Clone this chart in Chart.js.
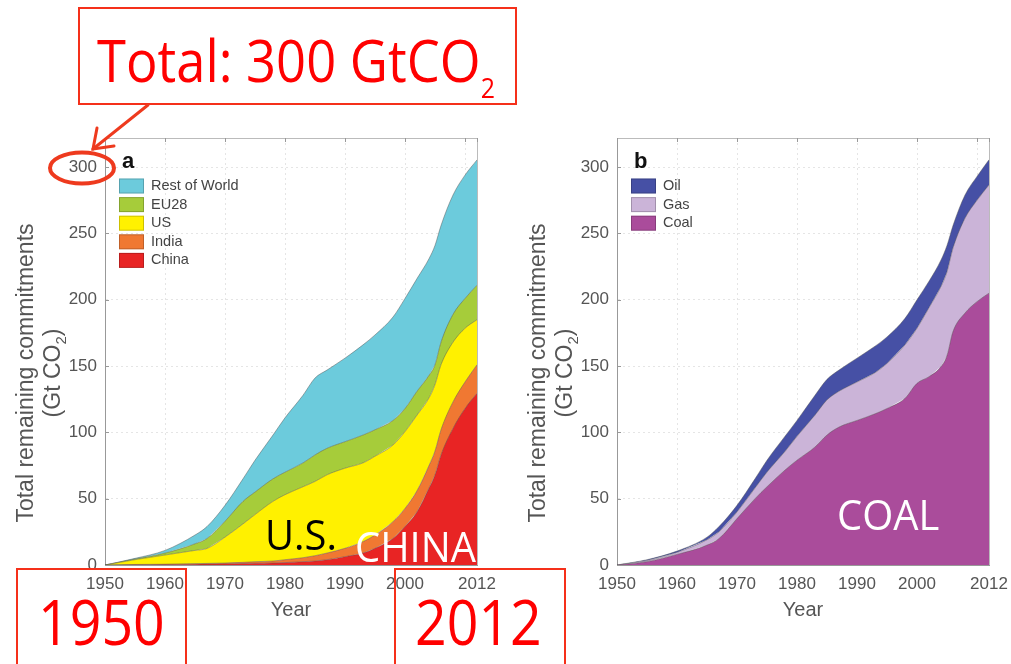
<!DOCTYPE html>
<html>
<head>
<meta charset="utf-8">
<script src="https://cdn.jsdelivr.net/npm/chart.js@4.4.1/dist/chart.umd.min.js"></script>
<style>
  body { margin: 0; width: 1011px; height: 664px; overflow: hidden; background: #fff; position: relative; }
  .plot { position: absolute; top: 0; width: 500px; height: 664px; }
  .plot canvas { filter: blur(0.5px); }
  #wrapA { left: 0; }
  #wrapB { left: 512px; }
  .ytitle {
    position: absolute; top: 373px; width: 360px;
    transform: translate(-50%, -50%) rotate(-90deg);
    text-align: center; white-space: nowrap;
    font: 23px/27px "Liberation Sans", Arial, sans-serif; color: #555;
    filter: blur(0.5px);
  }
  .ytitle sub { font-size: 0.65em; line-height: 0; }
  .box { position: absolute; box-sizing: border-box; border: 2px solid #f5301a; }
  .note {
    position: absolute; font-family: "Open Sans", sans-serif; line-height: 1;
    white-space: nowrap; transform-origin: 0 0;
  }
  #overlay { position: absolute; left: 0; top: 0; }
</style>
</head>
<body>

<div class="plot" id="wrapA"><canvas id="chartA" width="500" height="664"></canvas></div>
<div class="plot" id="wrapB"><canvas id="chartB" width="500" height="664"></canvas></div>

<div class="ytitle" style="left:38.5px">Total remaining commitments<br>(Gt CO<sub>2</sub>)</div>
<div class="ytitle" style="left:550.5px">Total remaining commitments<br>(Gt CO<sub>2</sub>)</div>

<!-- callouts -->
<div class="box" style="left:78px;top:7px;width:439px;height:98px"></div>
<div class="box" style="left:16px;top:568px;width:171px;height:120px"></div>
<div class="box" style="left:394px;top:568px;width:172px;height:120px"></div>

<div class="note" style="left:97px;top:30px;font-size:59px;color:#f00;transform:scaleX(0.89)">Total: 300 GtCO<span style="font-size:28px;position:relative;top:16px">2</span></div>
<div class="note" style="left:38px;top:589px;font-size:63px;color:#f00;transform:scaleX(0.88)">1950</div>
<div class="note" style="left:415px;top:589px;font-size:63px;color:#f00;transform:scaleX(0.88)">2012</div>
<div class="note" style="left:265px;top:513px;font-size:42px;color:#000;transform:scaleX(0.95)">U.S.</div>
<div class="note" style="left:355px;top:525px;font-size:42px;color:#fff;transform:scaleX(0.95)">CHINA</div>
<div class="note" style="left:837px;top:493px;font-size:42px;color:#fff;transform:scaleX(0.95)">COAL</div>

<svg id="overlay" width="1011" height="664">
  <g fill="none" stroke="#ee3a1e" stroke-linecap="round">
    <ellipse cx="82" cy="168" rx="32" ry="15.5" stroke-width="4"/>
    <line x1="148" y1="105" x2="93" y2="149" stroke-width="3"/>
    <polyline points="97,128 93,149 114,146" stroke-width="3"/>
  </g>
</svg>

<script>
const years = [1950, 1955, 1960, 1965, 1967, 1970, 1973, 1975, 1978, 1980, 1983, 1985, 1987,
               1990, 1993, 1995, 1998, 2000, 2002, 2004, 2005, 2006, 2008, 2010, 2012];

// panel a: remaining commitments by region, Gt CO2
const china       = [0, 0.2, 0.4, 0.6, 0.7, 0.9, 1.1, 1.3, 1.5, 1.8, 2.5, 3, 4, 6.3, 9, 12.6, 20, 29, 40, 58, 68, 83, 103, 118, 129.5];
const india       = [0, 0.2, 0.2, 0.4, 0.5, 0.6, 0.9, 1.2, 1.5, 2.2, 3, 4, 5, 6.3, 8.6, 10, 12.7, 13.7, 16, 17, 18, 19, 20, 20, 21.5];
const us          = [0, 3.6, 6.9, 10, 11.3, 19.5, 29, 35.5, 45, 49, 53.5, 56, 59, 60.4, 59.4, 59.4, 57.8, 57.9, 57, 51, 50, 49, 45, 40.5, 34];
const eu28        = [0, 0.5, 1.5, 5, 7.5, 12, 17, 17, 17, 17, 18, 20, 20, 20, 21, 20, 18.5, 17.4, 18, 17, 15, 17, 21, 22.5, 26];
const restOfWorld = [0, 0.5, 2, 6.6, 9, 12, 17, 24, 33, 41, 51, 58, 59, 63, 68, 71.5, 78, 83, 85, 88, 90, 88, 90, 93, 94.5];

// panel b: remaining commitments by fuel, Gt CO2
const coal = [0, 2.5, 8, 15, 20, 35, 50, 59, 71.6, 79, 89, 98, 104, 109, 114, 118, 125.7, 137, 142, 149.6, 158, 176, 190, 198.6, 205];
const gas  = [0, 0.8, 1.5, 4, 5, 5, 8, 11, 14, 18, 24, 26.5, 27, 29, 31, 34, 40.3, 41.5, 52, 60.4, 63, 63, 71.5, 76.4, 81.6];
const oil  = [0, 0.7, 1, 2, 4, 5, 7, 9, 11.5, 12, 15, 15.5, 16, 18, 20, 20, 20, 21.5, 20, 20, 20, 17, 17.5, 18, 19];

const yTicks = [0, 50, 100, 150, 200, 250, 300];
const xTicks = [1950, 1960, 1970, 1980, 1990, 2000, 2010, 2012];
const xTickLabels = ['1950', '1960', '1970', '1980', '1990', '2000', '', '2012'];

Chart.defaults.font.family = '"Liberation Sans", Arial, sans-serif';

// legend, panel letter and the box frame drawn inside the plot area
const insetLegend = {
  id: 'insetLegend',
  afterDraw(chart, args, opts) {
    const ctx = chart.ctx;
    const a = chart.chartArea;
    ctx.save();

    ctx.strokeStyle = '#bbb';
    ctx.lineWidth = 1;
    ctx.beginPath();
    ctx.moveTo(a.left, a.top + 0.5);
    ctx.lineTo(a.right + 0.5, a.top + 0.5);
    ctx.lineTo(a.right + 0.5, a.bottom);
    ctx.stroke();

    ctx.strokeStyle = '#999';
    ctx.beginPath();
    chart.scales.x.ticks.forEach(t => {
      const px = Math.round(chart.scales.x.getPixelForValue(t.value)) + 0.5;
      ctx.moveTo(px, a.top); ctx.lineTo(px, a.top + 4);
    });
    chart.scales.y.ticks.forEach(t => {
      const py = Math.round(chart.scales.y.getPixelForValue(t.value)) + 0.5;
      ctx.moveTo(a.left, py); ctx.lineTo(a.left + 4, py);
    });
    ctx.stroke();

    ctx.fillStyle = '#111';
    ctx.font = 'bold 22px "Liberation Sans", Arial, sans-serif';
    ctx.textBaseline = 'alphabetic';
    ctx.fillText(opts.letter, a.left + 17, a.top + 30);

    ctx.font = '14.5px "Liberation Sans", Arial, sans-serif';
    ctx.textBaseline = 'middle';
    chart.data.datasets.slice().reverse().forEach((ds, i) => {
      const y = a.top + 48 + i * 18.6;
      ctx.fillStyle = ds.backgroundColor;
      ctx.fillRect(a.left + 14, y - 7.5, 25, 15);
      ctx.strokeStyle = 'rgba(0,0,0,0.2)';
      ctx.strokeRect(a.left + 14.5, y - 7, 24, 14);
      ctx.fillStyle = '#444';
      ctx.fillText(ds.label, a.left + 46, y);
    });
    ctx.restore();
  }
};

function makeChart(canvasId, series, letter) {
  const ctx = document.getElementById(canvasId).getContext('2d');
  return new Chart(ctx, {
    type: 'line',
    data: {
      datasets: series.map(s => ({
        label: s.label,
        data: years.map((x, i) => ({ x: x, y: s.values[i] })),
        backgroundColor: s.color,
        borderColor: 'rgba(80,80,80,0.45)',
        borderWidth: 1,
        pointRadius: 0,
        fill: 'stack',
        cubicInterpolationMode: 'monotone'
      }))
    },
    options: {
      responsive: false,
      animation: false,
      layout: { padding: { top: 138, right: 23, bottom: 39, left: 0 } },
      plugins: {
        legend: { display: false },
        tooltip: { enabled: false },
        insetLegend: { letter: letter }
      },
      scales: {
        x: {
          type: 'linear',
          min: 1950,
          max: 2012,
          afterBuildTicks: s => { s.ticks = xTicks.map(v => ({ value: v })); },
          // fixed plot box: no extra room reserved for the end labels
          afterFit: s => { s.height = 60; s.paddingLeft = 0; s.paddingRight = 0; },
          ticks: {
            callback: v => xTickLabels[xTicks.indexOf(v)],
            font: { size: 17 }, color: '#555', padding: 9,
            maxRotation: 0, autoSkip: false
          },
          grid: {
            drawTicks: false,
            color: c => (c.tick && (c.tick.value === 1950 || c.tick.value === 2012)) ? 'rgba(0,0,0,0)' : 'rgba(0,0,0,0.1)'
          },
          border: { color: '#999', dash: [2, 3] },
          title: { display: true, text: 'Year', font: { size: 20 }, color: '#555', padding: { top: 0, bottom: 3 } }
        },
        y: {
          stacked: true,
          min: 0,
          max: 322,
          afterBuildTicks: s => { s.ticks = yTicks.map(v => ({ value: v })); },
          afterFit: s => { s.width = 105; s.paddingTop = 0; s.paddingBottom = 0; },
          ticks: { font: { size: 17 }, color: '#555', padding: 8 },
          grid: {
            drawTicks: false,
            color: c => (c.tick && c.tick.value === 0) ? 'rgba(0,0,0,0)' : 'rgba(0,0,0,0.1)'
          },
          border: { color: '#999', dash: [2, 3] }
        }
      }
    },
    plugins: [insetLegend]
  });
}

makeChart('chartA', [
  { label: 'China', values: china, color: '#E82424' },
  { label: 'India', values: india, color: '#F07832' },
  { label: 'US', values: us, color: '#FFF100' },
  { label: 'EU28', values: eu28, color: '#A6CC3A' },
  { label: 'Rest of World', values: restOfWorld, color: '#6CCBDC' }
], 'a');

makeChart('chartB', [
  { label: 'Coal', values: coal, color: '#AA4C9B' },
  { label: 'Gas', values: gas, color: '#CBB4D8' },
  { label: 'Oil', values: oil, color: '#4650A5' }
], 'b');
</script>
</body>
</html>
